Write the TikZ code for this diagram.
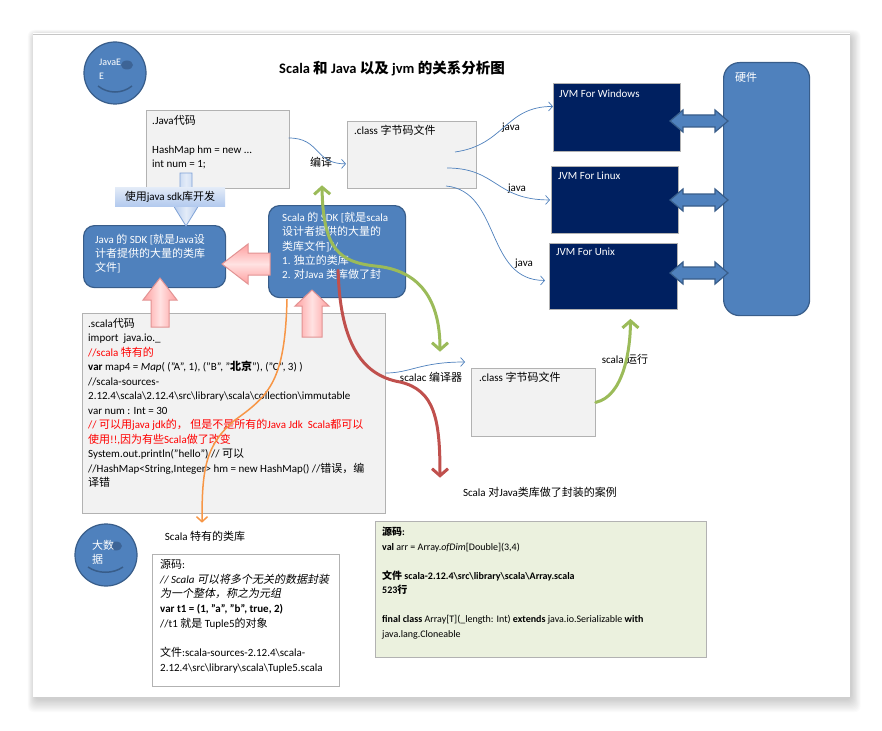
\documentclass[tikz,border=0pt]{standalone}
\usepackage{fontspec}
\setmainfont{Carlito}
\newfontfamily\cjk{Noto Sans CJK SC}[AutoFakeSlant=0.2]
\usetikzlibrary{arrows.meta,calc}

% Chinese characters are set in the CJK font, the rest in Carlito
\XeTeXinterchartokenstate=1
\newXeTeXintercharclass\cjkcls
\newcount\cjkcnt
\cjkcnt="4E00
\loop \XeTeXcharclass\cjkcnt=\cjkcls \advance\cjkcnt by 1 \ifnum\cjkcnt<"A000 \repeat
\cjkcnt="3000
\loop \XeTeXcharclass\cjkcnt=\cjkcls \advance\cjkcnt by 1 \ifnum\cjkcnt<"3040 \repeat
\cjkcnt="FF00
\loop \XeTeXcharclass\cjkcnt=\cjkcls \advance\cjkcnt by 1 \ifnum\cjkcnt<"FFF0 \repeat
\XeTeXinterchartoks 0 \cjkcls = {\cjk}
\XeTeXinterchartoks 4095 \cjkcls = {\cjk}
\XeTeXinterchartoks \cjkcls 0 = {\rmfamily}
\XeTeXinterchartoks \cjkcls 4095 = {\rmfamily}

\definecolor{blockblue}{HTML}{4F81BD}
\definecolor{blueline}{HTML}{385D8A}
\definecolor{eyeblue}{HTML}{3D6496}
\definecolor{navy}{HTML}{002060}
\definecolor{boxfill}{HTML}{F2F2F2}
\definecolor{boxline}{HTML}{B2B2B2}
\definecolor{arrayfill}{HTML}{EBF1DE}
\definecolor{greenline}{HTML}{9BBB59}
\definecolor{redline}{HTML}{C0504D}
\definecolor{orangeline}{HTML}{F79646}
\definecolor{pinklight}{HTML}{FFE2E2}
\definecolor{pinkdark}{HTML}{FF9E9E}
\definecolor{pinkline}{HTML}{E29393}
\definecolor{skylight}{HTML}{E4ECF8}
\definecolor{skydark}{HTML}{B3CAEE}
\definecolor{skyline}{HTML}{7FA2D6}
\definecolor{codered}{HTML}{FF0000}

\tikzset{
  graybox/.style={draw=boxline, fill=boxfill, anchor=north west, inner sep=0pt, line width=0.7pt},
  jvmbox/.style={draw=boxline, fill=navy, anchor=north west, inner sep=0pt, line width=0.9pt},
  sdkbox/.style={draw=blueline, fill=blockblue, anchor=north west, inner sep=0pt, rounded corners=11pt, line width=1.2pt},
  face/.style={circle, draw=blueline, fill=blockblue, line width=1.2pt, minimum size=62pt, inner sep=0pt},
  txt/.style={anchor=north west, align=left, inner sep=0pt, font=\fontsize{11}{14.5}\selectfont},
  lbl/.style={inner sep=0pt, font=\fontsize{11}{13}\selectfont},
  flow/.style={blockblue, line width=0.7pt, -{Straight Barb[length=4pt,width=9pt]}},
  bigtip/.tip={Straight Barb[length=7pt,width=16pt]},
  bigflow/.style={line width=3pt, line cap=round},
  pinkarrow/.style={draw=pinkline, line width=1pt},
  hwarrow/.style={draw=blueline, fill=blockblue, line width=1.2pt},
  smile/.style={draw=blueline, line width=1.5pt},
  hwlink/.pic={\draw[hwarrow] (-29,0) -- (-16,-11) -- (-16,-6) -- (16,-6) -- (16,-11) -- (29,0)
     -- (16,11) -- (16,6) -- (-16,6) -- (-16,11) -- cycle;}
}

\begin{document}
\begin{tikzpicture}[x=1pt, y=-1pt]
\useasboundingbox (0,0) rectangle (882,730);
\fill[white] (0,0) rectangle (882,730);
% page with its shadow
\foreach \s in {1,...,12}
  \fill[black, opacity=0.016, rounded corners=6pt] (35-\s*0.6, 36-\s*0.5) rectangle (851+\s*0.8, 699+\s*1.1);
\fill[white] (33,33) rectangle (850,697);
\draw[gray!45] (33,34) -- (850,34);

\node[font=\bfseries\fontsize{14.5}{16}\selectfont] (title) at (392,68) {Scala 和 Java 以及 jvm 的关系分析图};

% java side
\node[graybox, minimum width=143pt, minimum height=78pt] (javabox) at (146,110) {};
\node[txt] (javatext) at (152,115) {.Java代码\\\mbox{}\\HashMap hm = new ...\\int num = 1;};
\node[graybox, minimum width=129pt, minimum height=67pt] (classbox) at (347,121) {};
\node[txt] (classtext) at (354,125) {.class 字节码文件};

% jvm and hardware
\node[jvmbox, minimum width=127pt, minimum height=68pt] (jvmwin) at (553,83) {};
\node[txt, text=white] (wintext) at (559,89.5) {JVM For Windows};
\node[jvmbox, minimum width=127pt, minimum height=67pt] (jvmlinux) at (551,166) {};
\node[txt, text=white] (linuxtext) at (558,171.5) {JVM For Linux};
\node[jvmbox, minimum width=128pt, minimum height=66pt] (jvmunix) at (549,243) {};
\node[txt, text=white] (unixtext) at (556,247.5) {JVM For Unix};
\node[sdkbox, rounded corners=16pt, minimum width=86pt, minimum height=253pt] (hardware) at (723,62) {};
\node[txt, text=white] (hwtext) at (735,72) {硬件};
\pic (hwwin) at (699,121) {hwlink};
\pic (hwlinux) at (699,200) {hwlink};
\pic (hwunix) at (699,273) {hwlink};

% sdk boxes
\node[sdkbox, minimum width=142pt, minimum height=62pt] (javasdk) at (83,225) {};
\node[txt, text=white, font=\fontsize{11}{14}\selectfont] (javasdktext) at (95,234) {Java 的 SDK [就是Java设\\计者提供的大量的类库\\文件]};
\node[sdkbox, minimum width=137pt, minimum height=92pt] (scalasdk) at (268,205) {};
\node[txt, text=white, font=\fontsize{11}{14.3}\selectfont] (scalasdktext) at (282,212) {Scala 的 SDK [就是scala\\设计者提供的大量的\\类库文件]//\\1. 独立的类库\\2. 对Java 类库做了封};

\draw[draw=skyline, line width=0.8pt, left color=skydark, right color=skydark, middle color=skylight]
  (180,173) -- (192,173) -- (192,205) -- (199,205) -- (186,226) -- (173,205) -- (180,205) -- cycle;
\node[top color=skylight, bottom color=skydark, minimum width=110pt, minimum height=19pt, inner sep=0pt,
  font=\fontsize{11}{13}\selectfont] (sdkuse) at (170,196.5) {使用java sdk库开发};

% scala code and the examples
\node[graybox, minimum width=303pt, minimum height=200pt] (scalabox) at (82,313) {};
\node[txt] (scalatext) at (88,318) {.scala代码\\
import~~java.io.\_\\
\textcolor{codered}{//scala 特有的}\\
\textbf{var} map4 = \textit{Map}( ("A", 1), ("B", "\textbf{北京}"), ("C", 3) )\\
//scala-sources-\\
2.12.4\textbackslash scala\textbackslash 2.12.4\textbackslash src\textbackslash library\textbackslash scala\textbackslash collection\textbackslash immutable\\
var num : Int = 30\\
\textcolor{codered}{// 可以用java jdk的， 但是不是所有的Java Jdk~~Scala都可以}\\
\textcolor{codered}{使用!!,因为有些Scala做了改变}\\
System.out.println("hello") // 可以\\
//HashMap<String,Integer> hm = new HashMap() //错误，编\\
译错};
\node[graybox, minimum width=124pt, minimum height=68pt] (classbox2) at (471,368) {};
\node[txt] (classtext2) at (479,372) {.class 字节码文件};
\node[graybox, fill=white, minimum width=187pt, minimum height=132pt] (tuplebox) at (152,554) {};
\node[txt, font=\fontsize{11}{14.7}\selectfont] (tupletext) at (160,559) {源码:\\
\textit{// Scala 可以将多个无关的数据封装}\\
\textit{为一个整体，称之为元组}\\
\textbf{var t1 = (1, "a", "b", true, 2)}\\
//t1 就是 Tuple5的对象\\
\mbox{}\\
文件:scala-sources-2.12.4\textbackslash scala-\\
2.12.4\textbackslash src\textbackslash library\textbackslash scala\textbackslash Tuple5.scala};
\node[graybox, fill=arrayfill, minimum width=331pt, minimum height=136pt] (arraybox) at (375,521) {};
\node[txt, font=\fontsize{10}{14.5}\selectfont] (arraytext) at (382,527) {\textbf{源码:}\\
\textbf{val} arr = Array.\textit{ofDim}[Double](3,4)\\
\mbox{}\\
\textbf{文件 scala-2.12.4\textbackslash src\textbackslash library\textbackslash scala\textbackslash Array.scala}\\
\textbf{523行}\\
\mbox{}\\
\textbf{final class} Array[T](\_length: Int) \textbf{extends} java.io.Serializable \textbf{with}\\
java.lang.Cloneable};

% pink block arrows
\draw[pinkarrow, top color=pinkdark, bottom color=pinkdark, middle color=pinklight]
  (222,264) -- (248,244) -- (248,253) -- (270,253) -- (270,275) -- (248,275) -- (248,284) -- cycle;
\draw[pinkarrow, left color=pinkdark, right color=pinkdark, middle color=pinklight]
  (160,278) -- (177,300) -- (169,300) -- (169,327) -- (151,327) -- (151,300) -- (143,300) -- cycle;
\draw[pinkarrow, left color=pinkdark, right color=pinkdark, middle color=pinklight]
  (312,290) -- (329,306) -- (322,306) -- (322,337) -- (302,337) -- (302,306) -- (295,306) -- cycle;

% labels
\node[lbl] (compile) at (321,162) {编译};
\node[lbl] (java1) at (511,128) {java};
\node[lbl] (java2) at (517,189) {java};
\node[lbl] (java3) at (524,264) {java};
\node[lbl] (scalac) at (431,377) {scalac 编译器};
\node[lbl] (scalarun) at (625,359) {scala 运行};
\node[lbl] (wrapcase) at (540,492) {Scala 对Java类库做了封装的案例};
\node[lbl] (ownlib) at (205,536) {Scala 特有的类库};

% thin connectors
\draw[flow] ($(javabox.north east)+(-1,28)$) .. controls +(32,0) and +(-32,0) .. ($(classbox.west)+(-1,9)$);
\draw[flow] ($(classbox.north west)+(108,31)$) .. controls +(50,-7) and +(-48,0) .. ($(jvmwin.west)+(0,-11)$);
\draw[flow] ($(classbox.north west)+(100,47)$) .. controls +(50,0) and +(-55,0) .. ($(jvmlinux.west)+(-1,0)$);
\draw[flow] ($(classbox.north west)+(99,65)$) .. controls +(55,5) and +(-60,0) .. ($(jvmunix.west)+(-4,4)$);
\draw[flow] ($(scalabox.north east)+(0,60)$) .. controls +(25,0) and +(-45,0) .. ($(classbox2.north west)+(-6,-6)$);

% thick connectors
\draw[bigflow, greenline, bigtip-bigtip] ($(compile.south)+(1,18)$) .. controls (323,250) and (340,262) .. (375,266)
  .. controls (420,270) and (440,300) .. ($(scalac.north)+(9,-20)$);
\draw[bigflow, greenline, -bigtip] (classbox2.east) .. controls +(28,-6) and +(0,30) .. ($(jvmunix.south)+(17,9)$);
\draw[bigflow, redline, -bigtip] ($(scalasdk.south)+(1,-28)$) .. controls (340,340) and (360,375) .. (400,382)
  .. controls (435,390) and (440,420) .. ($(wrapcase.north)+(-100,-9)$);
\draw[orangeline, line width=1.5pt, -{Straight Barb[length=5pt,width=11pt]}] ($(scalasdk.south west)+(19,1)$)
  .. controls (285,380) and (270,395) .. (235,420) .. controls (205,445) and (202,470) .. ($(ownlib.north)+(-3,-8)$);

% the two faces
\node[face] (javaee) at (115,73) {};
\fill[eyeblue] (127,65) ellipse (6 and 4.5);
\node[txt, text=white, font=\fontsize{10}{14}\selectfont] (javaeetext) at (99,59) {JavaE\\E};
\draw[smile] (98,86) .. controls (108,94) and (122,94) .. (132,86);
\node[face] (bigdata) at (106,555) {};
\fill[eyeblue] (116,546) ellipse (6 and 4.5);
\node[txt, text=white, font=\fontsize{11}{14}\selectfont] (bigdatatext) at (92,540) {大数\\据};
\draw[smile] (88,567) .. controls (98,574) and (113,574) .. (123,567);
\end{tikzpicture}
\end{document}
